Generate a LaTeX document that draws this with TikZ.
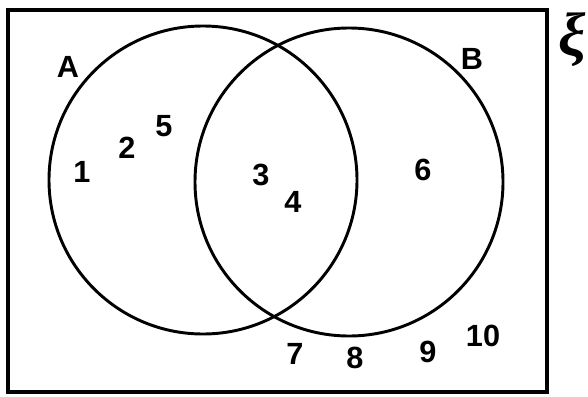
\documentclass[tikz,border=0pt]{standalone}
\usepackage{fontspec}
\setmainfont{Liberation Sans}
\newfontfamily\greekfont{Liberation Serif}
\tikzset{
  vfig/.style={font=\fontsize{23}{24}\selectfont\bfseries, inner sep=0pt},
  setring/.style={draw, circle, line width=2.2pt, inner sep=0pt, minimum size=231pt},
  frame/.style={line width=2.5pt},
}
\begin{document}
\begin{tikzpicture}[x=0.75pt, y=-0.75pt]
  \useasboundingbox (0,0) rectangle (588,396);

  % universal set
  \draw[frame] (8,10) rectangle (547,392);
  \node[font=\fontsize{46}{46}\selectfont\greekfont\bfseries\itshape, inner sep=0pt] (univ) at (572,40) {ξ};

  % the two sets
  \node[setring] (setA) at (203,180) {};
  \node[setring] (setB) at (349,182) {};
  \node[vfig] (labA) at (68,67) {A};
  \node[vfig] (labB) at (472,59) {B};

  % elements
  \node[vfig] (e1) at (82,172) {1};
  \node[vfig] (e2) at (127,148) {2};
  \node[vfig] (e5) at (164,126) {5};
  \node[vfig] (e3) at (261,175) {3};
  \node[vfig] (e4) at (293,202) {4};
  \node[vfig] (e6) at (423,170) {6};
  \node[vfig] (e7) at (295,354) {7};
  \node[vfig] (e8) at (355,358) {8};
  \node[vfig] (e9) at (428,352) {9};
  \node[vfig] (e10) at (483,336) {10};

\end{tikzpicture}
\end{document}
